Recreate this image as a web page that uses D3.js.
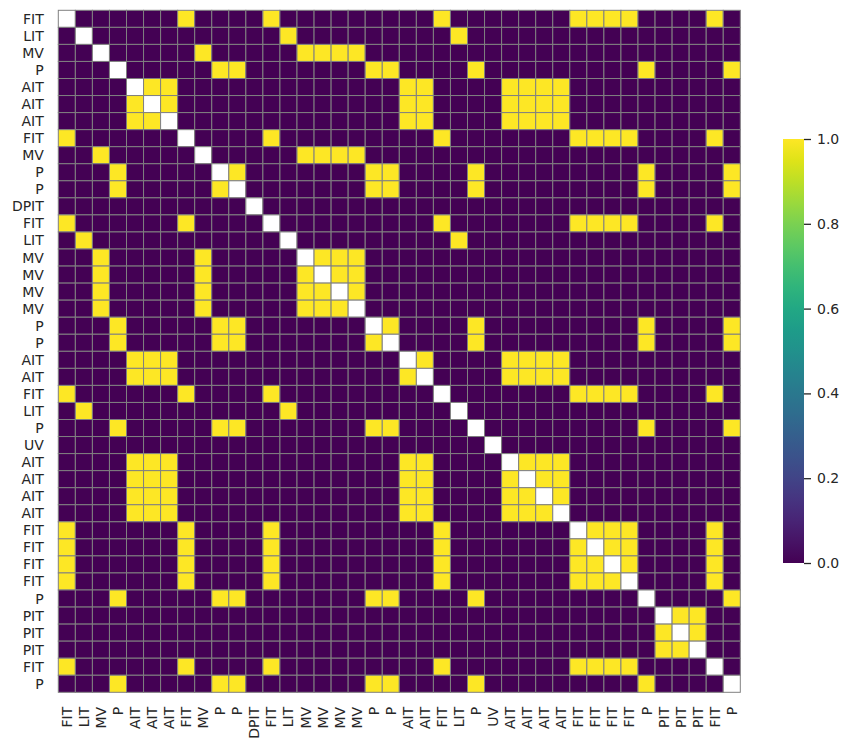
<!DOCTYPE html>
<html>
<head>
  <meta charset="utf-8">
  <script src="https://d3js.org/d3.v7.min.js"></script>
  <style>
    body { margin: 0; background: #fff; }
    text { font-family: "DejaVu Sans", sans-serif; fill: #262626; }
  </style>
</head>
<body>
<script>
  // row / column labels
  var labels = ["FIT","LIT","MV","P","AIT","AIT","AIT","FIT","MV","P",
                "P","DPIT","FIT","LIT","MV","MV","MV","MV","P","P",
                "AIT","AIT","FIT","LIT","P","UV","AIT","AIT","AIT","AIT",
                "FIT","FIT","FIT","FIT","P","PIT","PIT","PIT","FIT","P"];

  // matrix values, "-" = masked (drawn white)
  var rows = [
    "-000000100" + "0010000000" + "0010000000" + "1111000010",
    "0-00000000" + "0001000000" + "0001000000" + "0000000000",
    "00-0000010" + "0000111100" + "0000000000" + "0000000000",
    "000-000001" + "1000000011" + "0000100000" + "0000100001",
    "0000-11000" + "0000000000" + "1100001111" + "0000000000",
    "00001-1000" + "0000000000" + "1100001111" + "0000000000",
    "000011-000" + "0000000000" + "1100001111" + "0000000000",
    "1000000-00" + "0010000000" + "0010000000" + "1111000010",
    "00100000-0" + "0000111100" + "0000000000" + "0000000000",
    "000100000-" + "1000000011" + "0000100000" + "0000100001",
    "0001000001" + "-000000011" + "0000100000" + "0000100001",
    "0000000000" + "0-00000000" + "0000000000" + "0000000000",
    "1000000100" + "00-0000000" + "0010000000" + "1111000010",
    "0100000000" + "000-000000" + "0001000000" + "0000000000",
    "0010000010" + "0000-11100" + "0000000000" + "0000000000",
    "0010000010" + "00001-1100" + "0000000000" + "0000000000",
    "0010000010" + "000011-100" + "0000000000" + "0000000000",
    "0010000010" + "0000111-00" + "0000000000" + "0000000000",
    "0001000001" + "10000000-1" + "0000100000" + "0000100001",
    "0001000001" + "100000001-" + "0000100000" + "0000100001",
    "0000111000" + "0000000000" + "-100001111" + "0000000000",
    "0000111000" + "0000000000" + "1-00001111" + "0000000000",
    "1000000100" + "0010000000" + "00-0000000" + "1111000010",
    "0100000000" + "0001000000" + "000-000000" + "0000000000",
    "0001000001" + "1000000011" + "0000-00000" + "0000100001",
    "0000000000" + "0000000000" + "00000-0000" + "0000000000",
    "0000111000" + "0000000000" + "110000-111" + "0000000000",
    "0000111000" + "0000000000" + "1100001-11" + "0000000000",
    "0000111000" + "0000000000" + "11000011-1" + "0000000000",
    "0000111000" + "0000000000" + "110000111-" + "0000000000",
    "1000000100" + "0010000000" + "0010000000" + "-111000010",
    "1000000100" + "0010000000" + "0010000000" + "1-11000010",
    "1000000100" + "0010000000" + "0010000000" + "11-1000010",
    "1000000100" + "0010000000" + "0010000000" + "111-000010",
    "0001000001" + "1000000011" + "0000100000" + "0000-00001",
    "0000000000" + "0000000000" + "0000000000" + "00000-1100",
    "0000000000" + "0000000000" + "0000000000" + "000001-100",
    "0000000000" + "0000000000" + "0000000000" + "0000011-00",
    "1000000100" + "0010000000" + "0010000000" + "11110000-0",
    "0001000001" + "1000000011" + "0000100000" + "000010000-"
  ];

  var cbarTicks = [0.0, 0.2, 0.4, 0.6, 0.8, 1.0];

  var W = 851, H = 750;
  var hmLeft = 58.3, hmTop = 10.3, hmSize = 682;

  var svg = d3.select("body").append("svg")
      .attr("width", W)
      .attr("height", H);

  var idx = d3.range(labels.length);

  var x = d3.scaleBand().domain(idx).range([hmLeft, hmLeft + hmSize]);
  var y = d3.scaleBand().domain(idx).range([hmTop, hmTop + hmSize]);
  var color = d3.scaleSequential(d3.interpolateViridis).domain([0, 1]);

  var cells = [];
  rows.forEach(function(r, i) {
    r.split("").forEach(function(c, j) {
      cells.push({ row: i, col: j, v: c === "-" ? null : +c });
    });
  });

  svg.append("g").selectAll("rect")
    .data(cells)
    .join("rect")
      .attr("x", d => x(d.col))
      .attr("y", d => y(d.row))
      .attr("width", x.bandwidth())
      .attr("height", y.bandwidth())
      .attr("fill", d => d.v === null ? "#fff" : color(d.v))
      .attr("stroke", "#808080")
      .attr("stroke-width", 1);

  // y labels
  svg.append("g").selectAll("text")
    .data(idx)
    .join("text")
      .attr("x", hmLeft - 14.5)
      .attr("y", d => y(d) + y.bandwidth() / 2)
      .attr("text-anchor", "end")
      .attr("dominant-baseline", "central")
      .style("font-size", "14px")
      .text(d => labels[d]);

  // x labels, rotated
  svg.append("g").selectAll("text")
    .data(idx)
    .join("text")
      .attr("transform", d => "translate(" + (x(d) + x.bandwidth() / 2) + "," + (hmTop + hmSize + 14.5) + ") rotate(-90)")
      .attr("text-anchor", "end")
      .attr("dominant-baseline", "central")
      .style("font-size", "14px")
      .text(d => labels[d]);

  // colorbar
  var cbX = 783, cbW = 21, cbTop = 139, cbBot = 563;
  var grad = svg.append("defs").append("linearGradient")
      .attr("id", "viridis")
      .attr("x1", "0").attr("y1", "1").attr("x2", "0").attr("y2", "0");
  d3.range(0, 1.0001, 0.05).forEach(function(t) {
    grad.append("stop").attr("offset", t).attr("stop-color", color(t));
  });
  svg.append("rect")
      .attr("x", cbX).attr("y", cbTop)
      .attr("width", cbW).attr("height", cbBot - cbTop)
      .attr("fill", "url(#viridis)");

  var cb = d3.scaleLinear().domain([0, 1]).range([cbBot, cbTop]);
  var cbAxis = svg.append("g")
      .attr("transform", "translate(" + (cbX + cbW) + ",0)")
      .call(d3.axisRight(cb).tickValues(cbarTicks).tickFormat(d3.format(".1f")).tickSize(7).tickPadding(6));
  cbAxis.select(".domain").remove();
  cbAxis.selectAll("line").attr("stroke", "#262626").attr("stroke-width", 1.3);
  cbAxis.selectAll("text")
      .style("font-size", "14px")
      .style("font-family", "DejaVu Sans, sans-serif")
      .attr("fill", "#262626");
</script>
</body>
</html>
